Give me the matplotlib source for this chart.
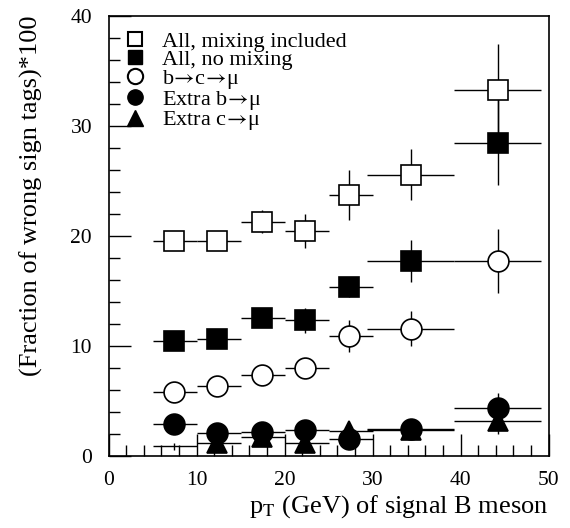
import numpy as np
import matplotlib.pyplot as plt
from matplotlib.lines import Line2D
from matplotlib.ticker import MultipleLocator

plt.rcParams['font.family'] = ['Liberation Serif', 'DejaVu Serif']
plt.rcParams['mathtext.fontset'] = 'stix'

# bin centres and edges in pT (GeV)
pt = np.array([7.4, 12.3, 17.4, 22.3, 27.3, 34.3, 44.2])
pt_lo = np.array([5.0, 10.0, 15.0, 20.0, 25.0, 29.3, 39.2])
pt_hi = np.array([10.0, 15.0, 20.0, 25.0, 30.0, 39.2, 49.1])

# wrong sign fraction * 100
all_mix = np.array([19.55, 19.55, 21.25, 20.45, 23.7, 25.55, 33.25])
all_mix_err = np.array([0.6, 0.6, 1.05, 1.55, 2.3, 2.35, 4.15])

all_nomix = np.array([10.45, 10.6, 12.5, 12.3, 15.3, 17.7, 28.45])
all_nomix_err = np.array([0.6, 0.6, 0.8, 1.1, 0.9, 1.95, 3.85])

bcmu = np.array([5.75, 6.3, 7.35, 7.95, 10.85, 11.55, 17.7])
bcmu_err = np.array([0.5, 0.6, 0.7, 0.8, 1.45, 1.6, 2.9])

extra_b = np.array([2.85, 2.05, 2.15, 2.35, 1.5, 2.4, 4.3])
extra_b_err = np.array([0.5, 0.5, 0.5, 0.5, 0.5, 0.6, 1.43])

extra_c = np.array([0.85, 1.15, 1.7, 1.18, 2.27, 2.35, 3.18])
extra_c_err = np.array([0.3, 0.4, 0.4, 0.4, 0.5, 0.5, 1.2])

fig = plt.figure(figsize=(5.7, 5.28), dpi=100)
ax = fig.add_axes([0.1907, 0.1369, 0.7719, 0.8334])

xerr = [pt - pt_lo, pt_hi - pt]
ms = 15
ebkw = dict(fmt='none', ecolor='black', elinewidth=1.0, capsize=0)

series = [
    (all_mix, all_mix_err, 's', 'white'),
    (all_nomix, all_nomix_err, 's', 'black'),
    (bcmu, bcmu_err, 'o', 'white'),
    (extra_c, extra_c_err, '^', 'black'),
    (extra_b, extra_b_err, 'o', 'black'),
]
for y, yerr, mk, fc in series:
    ax.errorbar(pt, y, xerr=xerr, yerr=yerr, zorder=2, **ebkw)
for y, yerr, mk, fc in series:
    if mk == '^':
        # first c->mu bin has no marker drawn
        ax.plot(pt[1:], y[1:], ls='none', marker=mk, ms=ms, mfc=fc,
                mec='black', mew=1.2, zorder=3)
    else:
        ax.plot(pt, y, ls='none', marker=mk, ms=ms, mfc=fc,
                mec='black', mew=1.2, zorder=3)

ax.set_xlim(0, 50)
ax.set_ylim(0, 40)
ax.xaxis.set_major_locator(MultipleLocator(10))
ax.xaxis.set_minor_locator(MultipleLocator(2))
ax.yaxis.set_major_locator(MultipleLocator(10))
ax.yaxis.set_minor_locator(MultipleLocator(2))
ax.tick_params(which='both', direction='in', top=False, right=False,
               width=1.0, labelsize=15.5)
ax.tick_params(which='major', length=16)
ax.tick_params(which='minor', length=8)
ax.tick_params(axis='x', pad=11)
ax.tick_params(axis='y', pad=12)
for s in ax.spines.values():
    s.set_linewidth(1.2)

ax.set_xlabel(r'p$_\mathrm{T}$ (GeV) of signal B meson', fontsize=19,
              loc='right', labelpad=2)
ax.set_ylabel('(Fraction of wrong sign tags)*100', fontsize=19,
              loc='top', labelpad=20)

handles = [
    Line2D([], [], ls='none', marker='s', ms=10, mfc='white', mec='black', mew=1.5),
    Line2D([], [], ls='none', marker='s', ms=10, mfc='black', mec='black'),
    Line2D([], [], ls='none', marker='o', ms=11, mfc='white', mec='black', mew=1.5),
    Line2D([], [], ls='none', marker='o', ms=11, mfc='black', mec='black'),
    Line2D([], [], ls='none', marker='^', ms=11, mfc='black', mec='black'),
]
arrow = r'$\!\rightarrow\!$'
labels = ['All, mixing included', 'All, no mixing',
          'b' + arrow + 'c' + arrow + 'μ',
          'Extra b' + arrow + 'μ', 'Extra c' + arrow + 'μ']
ax.legend(handles, labels, loc='upper left', frameon=False, fontsize=16,
          handlelength=1.0, handletextpad=0.7, labelspacing=-0.1,
          borderaxespad=0.0, bbox_to_anchor=(0.015, 0.985))

fig.savefig('out.png', dpi=100)
